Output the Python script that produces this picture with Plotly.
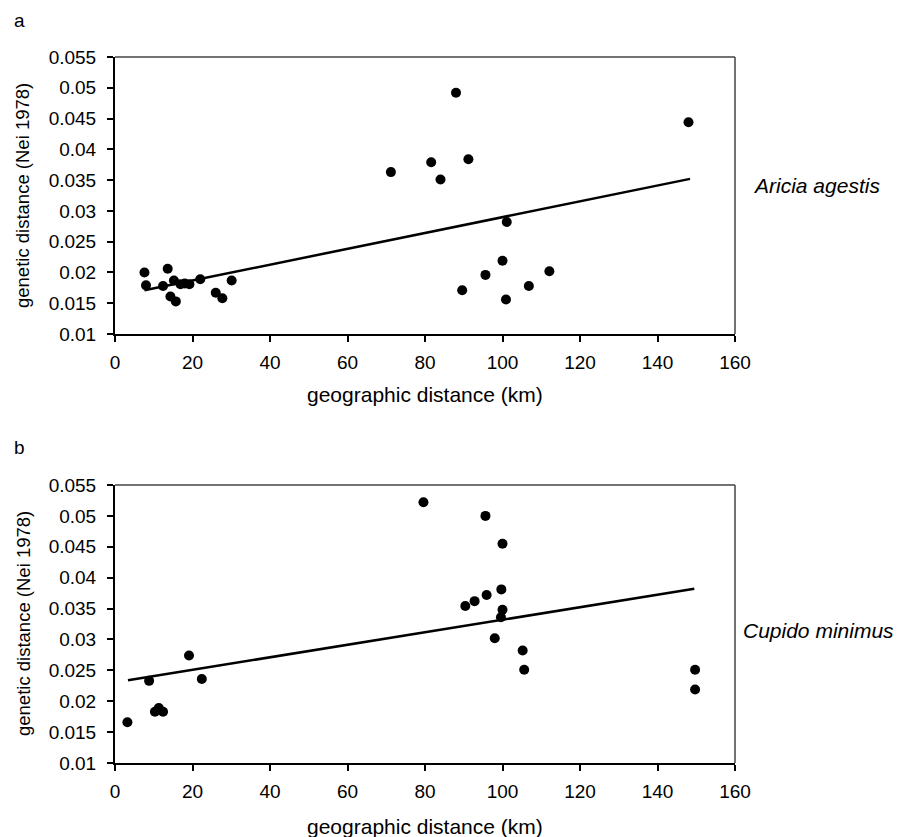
import plotly.graph_objects as go

# Panel a: Aricia agestis
a_x = [7.6, 8.0, 13.6, 12.4, 15.2, 14.3, 15.7, 16.9, 18.0, 19.2, 22.0, 26.0, 27.7, 30.1,
       71.2, 81.6, 84.0, 88.0, 91.2, 101.1, 100.0, 95.6, 89.6, 100.9, 106.8, 112.1, 148.0]
a_y = [0.0200, 0.0179, 0.0206, 0.0178, 0.0187, 0.0161, 0.0153, 0.0181, 0.0182, 0.0181, 0.0189, 0.0167, 0.0158, 0.0187,
       0.0363, 0.0379, 0.0351, 0.0492, 0.0384, 0.0282, 0.0219, 0.0196, 0.0171, 0.0156, 0.0178, 0.0202, 0.0444]
a_line_x = [7.6, 148.4]
a_line_y = [0.0171, 0.0352]

# Panel b: Cupido minimus
b_x = [3.2, 8.8, 10.3, 11.3, 12.4, 19.1, 22.4, 79.6, 90.4, 92.8, 95.6, 100.0, 95.9, 99.7,
       100.0, 99.6, 98.0, 105.2, 105.6, 149.7, 149.7]
b_y = [0.0166, 0.0233, 0.0183, 0.0189, 0.0183, 0.0274, 0.0236, 0.0522, 0.0354, 0.0362, 0.0500, 0.0455, 0.0372, 0.0381,
       0.0348, 0.0336, 0.0302, 0.0282, 0.0251, 0.0251, 0.0219]
b_line_x = [3.35, 149.5]
b_line_y = [0.0234, 0.0382]

x_ticks = [0, 20, 40, 60, 80, 100, 120, 140, 160]
y_ticks = [0.01, 0.015, 0.02, 0.025, 0.03, 0.035, 0.04, 0.045, 0.05, 0.055]
y_ticktext = ["0.01", "0.015", "0.02", "0.025", "0.03", "0.035", "0.04", "0.045", "0.05", "0.055"]

FONT = "Liberation Sans, Arial, sans-serif"
TICKFONT = dict(family=FONT, size=19, color="black")

fig = go.Figure()
fig.add_trace(go.Scatter(x=a_x, y=a_y, mode="markers", marker=dict(color="black", size=10),
                         xaxis="x", yaxis="y", showlegend=False))
fig.add_trace(go.Scatter(x=a_line_x, y=a_line_y, mode="lines", line=dict(color="black", width=2.5),
                         xaxis="x", yaxis="y", showlegend=False))
fig.add_trace(go.Scatter(x=b_x, y=b_y, mode="markers", marker=dict(color="black", size=10),
                         xaxis="x2", yaxis="y2", showlegend=False))
fig.add_trace(go.Scatter(x=b_line_x, y=b_line_y, mode="lines", line=dict(color="black", width=2.5),
                         xaxis="x2", yaxis="y2", showlegend=False))

L, R, T, B = 115, 173, 57, 74
W, H = 908, 837
ph = H - T - B
a_bot = (H - B - 334) / ph
b_top = (H - B - 485) / ph

xcommon = dict(range=[0, 160], tickvals=x_ticks, ticks="outside", ticklen=6, tickwidth=1.5,
               tickcolor="black", showline=True, linecolor="black", linewidth=2, showgrid=False,
               zeroline=False, tickfont=TICKFONT, mirror=False, ticklabelstandoff=4)
ycommon = dict(range=[0.01, 0.055], tickvals=y_ticks, ticktext=y_ticktext, ticks="outside", ticklen=6,
               tickwidth=1.5, tickcolor="black", showline=True, linecolor="black", linewidth=2,
               showgrid=False, zeroline=False, tickfont=TICKFONT, mirror=False, ticklabelstandoff=7)

fig.update_layout(
    width=W, height=H,
    margin=dict(l=L, r=R, t=T, b=B),
    paper_bgcolor="white", plot_bgcolor="white",
    xaxis=dict(domain=[0, 1], anchor="y", **xcommon),
    yaxis=dict(domain=[a_bot, 1], anchor="x", **ycommon),
    xaxis2=dict(domain=[0, 1], anchor="y2", **xcommon),
    yaxis2=dict(domain=[0, b_top], anchor="x2", **ycommon),
)

# box top/right lines (gray)
for xr, yr in [("x", "y"), ("x2", "y2")]:
    fig.add_shape(type="line", xref=xr + " domain", yref=yr + " domain", x0=0, x1=1, y0=1, y1=1,
                  line=dict(color="#444", width=1.5))
    fig.add_shape(type="line", xref=xr + " domain", yref=yr + " domain", x0=1, x1=1, y0=0, y1=1,
                  line=dict(color="#444", width=1.5))

pw = W - L - R
def px_x(p):
    return (p - L) / pw
def px_y(p):
    return (H - B - p) / ph

ann = []
ann.append(dict(text="a", x=px_x(19), y=px_y(21), xref="paper", yref="paper", showarrow=False,
                font=dict(family=FONT, size=19, color="black"), xanchor="center", yanchor="middle"))
ann.append(dict(text="b", x=px_x(19), y=px_y(448), xref="paper", yref="paper", showarrow=False,
                font=dict(family=FONT, size=19, color="black"), xanchor="center", yanchor="middle"))
for cy in [196, 624]:
    ann.append(dict(text="genetic distance (Nei 1978)", x=px_x(23), y=px_y(cy), xref="paper", yref="paper",
                    showarrow=False, textangle=-90, font=dict(family=FONT, size=18.5, color="black"),
                    xanchor="center", yanchor="middle"))
for cy in [394, 826]:
    ann.append(dict(text="geographic distance (km)", x=px_x(425), y=px_y(cy), xref="paper", yref="paper",
                    showarrow=False, font=dict(family=FONT, size=21, color="black"),
                    xanchor="center", yanchor="middle"))
ann.append(dict(text="<i>Aricia agestis</i>", x=px_x(816), y=px_y(186), xref="paper", yref="paper",
                showarrow=False, font=dict(family=FONT, size=21, color="black"), xanchor="center", yanchor="middle"))
ann.append(dict(text="<i>Cupido minimus</i>", x=px_x(818), y=px_y(630), xref="paper", yref="paper",
                showarrow=False, font=dict(family=FONT, size=21, color="black"), xanchor="center", yanchor="middle"))
fig.update_layout(annotations=ann)

fig.write_html("out.html", config={"displayModeBar": False},
               post_script="document.body.style.margin='0';document.body.style.overflow='hidden';")
